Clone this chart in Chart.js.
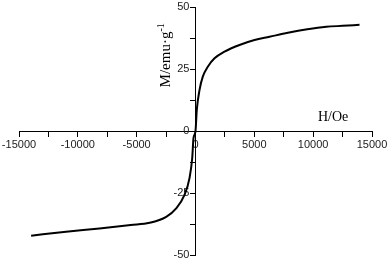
<!DOCTYPE html>
<html>
<head>
<meta charset="utf-8">
<script src="https://cdn.jsdelivr.net/npm/chart.js@4.4.0/dist/chart.umd.min.js"></script>
<style>
  html, body { margin: 0; padding: 0; background: #fff; }
  #wrap { width: 388px; height: 260px; position: relative; }
</style>
</head>
<body>
<div id="wrap"><canvas id="mh"></canvas></div>
<script>
// M-H curve (H in Oe, M in emu/g)
const fieldH = [-13970, -11000, -8160, -5500, -3910, -2490, -1640, -935, -510, -280, -170, 0,
                110, 340, 620, 1045, 1615, 2465, 3740, 5015, 6290, 7850, 9500, 11110, 12500, 13940];
const moment = [-42.2, -40.6, -39.3, -37.9, -37.0, -34.6, -31.2, -25.8, -19.0, -11.0, -2.9, 0,
                8.5, 16.5, 21.9, 25.9, 29.3, 32.0, 34.7, 36.7, 38.0, 39.6, 41.0, 42.0, 42.4, 42.8];

const xTickLabels = [-15000, -10000, -5000, 0, 5000, 10000, 15000];
const yTickLabels = [-50, -25, 0, 25, 50];

const xTitle = "H/Oe";
const yTitle = "M/emu\u00b7g";
const yTitleSup = "-1";

const points = fieldH.map((h, i) => ({ x: h, y: moment[i] }));

// axis titles sit next to the crossing axes, so draw them by hand
const axisTitles = {
    id: "axisTitles",
    afterDraw(chart) {
        const { ctx, scales } = chart;
        const xs = scales.x, ys = scales.y;
        ctx.save();
        ctx.fillStyle = "#000";
        ctx.font = "14px 'Liberation Serif', 'Times New Roman', serif";
        ctx.textAlign = "center";
        ctx.textBaseline = "middle";
        ctx.fillText(xTitle, xs.getPixelForValue(11700), ys.getPixelForValue(5.5));

        // rotated y title with superscript
        const cx = xs.getPixelForValue(-2600);
        const cy = ys.getPixelForValue(30.5);
        ctx.translate(cx, cy);
        ctx.rotate(-Math.PI / 2);
        ctx.font = "15px 'Liberation Serif', 'Times New Roman', serif";
        const w1 = ctx.measureText(yTitle).width;
        ctx.font = "10px 'Liberation Serif', 'Times New Roman', serif";
        const w2 = ctx.measureText(yTitleSup).width;
        const start = -(w1 + w2) / 2;
        ctx.textAlign = "left";
        ctx.textBaseline = "alphabetic";
        ctx.font = "15px 'Liberation Serif', 'Times New Roman', serif";
        ctx.fillText(yTitle, start, 5);
        ctx.font = "10px 'Liberation Serif', 'Times New Roman', serif";
        ctx.fillText(yTitleSup, start + w1, -1);
        ctx.restore();
    }
};

// the end labels should not push the plot area in
const noScalePadding = s => {
    s.paddingTop = 0; s.paddingBottom = 0;
    s.paddingLeft = 0; s.paddingRight = 0;
};

new Chart(document.getElementById("mh"), {
    type: "line",
    data: {
        datasets: [{
            data: points,
            borderColor: "#000",
            borderWidth: 2,
            pointRadius: 0,
            fill: false,
            cubicInterpolationMode: "monotone"
        }]
    },
    options: {
        responsive: true,
        maintainAspectRatio: false,
        animation: false,
        layout: { padding: { left: 19, right: 16, top: 7, bottom: 5 } },
        plugins: { legend: { display: false }, tooltip: { enabled: false } },
        scales: {
            x: {
                type: "linear",
                position: { y: 0 },
                min: -15000, max: 15000,
                afterFit: noScalePadding,
                grid: { drawOnChartArea: false, tickLength: 5, tickColor: "#000" },
                border: { color: "#000", width: 1 },
                ticks: {
                    stepSize: 2500,
                    autoSkip: false,
                    maxRotation: 0,
                    padding: 2,
                    color: "#222",
                    font: { family: "'Liberation Sans', Arial, sans-serif", size: 11 },
                    callback: v => xTickLabels.includes(v) ? String(v) : ""
                }
            },
            y: {
                type: "linear",
                position: { x: 0 },
                min: -50, max: 50,
                afterFit: noScalePadding,
                grid: { drawOnChartArea: false, tickLength: 5, tickColor: "#000" },
                border: { color: "#000", width: 1 },
                ticks: {
                    stepSize: 12.5,
                    autoSkip: false,
                    color: "#222",
                    font: { family: "'Liberation Sans', Arial, sans-serif", size: 11 },
                    // labels on a crossing axis end right at the line; pad them off the ticks
                    callback: v => yTickLabels.includes(v) ? String(v) + "  " : ""
                }
            }
        }
    },
    plugins: [axisTitles]
});
</script>
</body>
</html>
